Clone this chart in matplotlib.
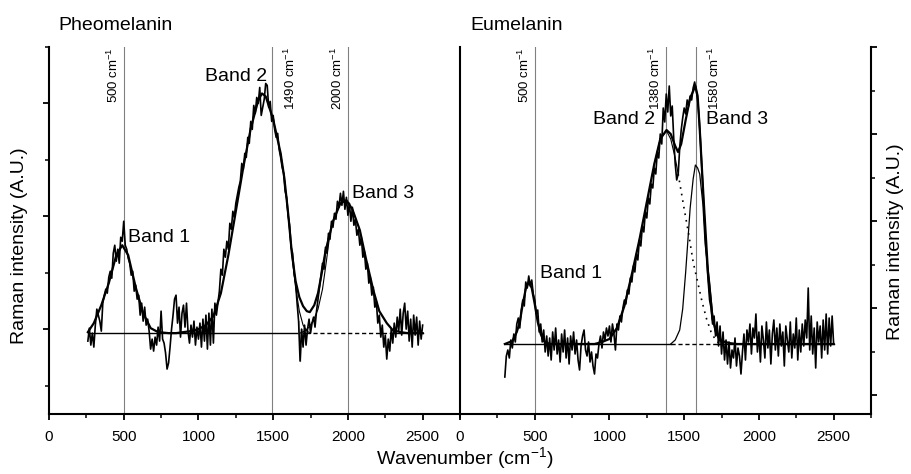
import matplotlib.pyplot as plt
import numpy as np
from matplotlib.ticker import MultipleLocator

plt.rcParams['font.family'] = ['Liberation Sans', 'DejaVu Sans']
plt.rcParams['mathtext.fontset'] = 'custom'
plt.rcParams['mathtext.rm'] = 'Liberation Sans'
plt.rcParams['mathtext.default'] = 'regular'

# ---- Pheomelanin (left panel), heights above baseline in A.U.
pheo_start = 260  # raw spectrum, one value every 10 cm-1
pheo_raw = [-8, 5, -12, 0, -14, 8, 24, 18, 12, 2,
            30, 38, 44, 40, 56, 62, 55, 80, 88, 72,
            84, 70, 96, 92, 112, 88, 84, 75, 70, 58,
            62, 42, 48, 34, 38, 18, 30, 12, 26, 8,
            14, 2, -16, -6, -18, -4, -12, 6, -8, 22,
            -6, -10, -20, -36, -30, -14, 4, 18, 34, 38,
            10, 26, -4, 20, 28, 6, 30, 2, -10, 8,
            -4, 12, -12, 6, -6, 10, -14, 14, -8, 18,
            -16, 20, -12, 24, -10, 30, 18, 30, 42, 64,
            58, 84, 76, 92, 84, 110, 104, 122, 116, 130,
            138, 146, 152, 170, 164, 180, 176, 196, 190, 212,
            204, 228, 220, 236, 230, 246, 218, 226, 234, 250,
            248, 226, 232, 212, 218, 204, 196, 200, 184, 176,
            166, 160, 142, 136, 118, 108, 86, 80, 60, 50,
            30, 12, -28, 4, -14, 8, -12, 4, 14, 0,
            10, 16, 6, 22, 34, 46, 58, 70, 64, 86,
            80, 100, 94, 112, 106, 120, 114, 132, 126, 140,
            128, 142, 124, 136, 118, 130, 112, 126, 108, 114,
            98, 104, 88, 96, 76, 82, 64, 70, 50, 56,
            38, 46, 26, 32, 10, 18, -4, 8, -14, -2,
            -26, -6, -18, 4, -10, 10, -4, 16, 2, 24,
            -2, 20, 30, 4, 22, -8, 14, -14, 18, -2,
            16, -12, 12, -6, 8]

pheo_fit_x = [260, 300, 350, 400, 450, 490, 530, 580, 630, 680, 730, 800, 850,
              900, 950, 1000, 1050, 1100, 1150, 1200, 1250, 1300, 1350, 1400,
              1425, 1450, 1500, 1550, 1575, 1600, 1625, 1650, 1675, 1700, 1725,
              1745, 1775, 1800, 1825, 1850, 1900, 1950, 1990, 2030, 2080, 2120,
              2170, 2210, 2260, 2300, 2350, 2400, 2500]
pheo_fit_y = [1, 10, 28, 50, 78, 88, 78, 46, 20, 5, 1, 0, 0,
              1, 2, 4, 8, 17, 40, 78, 122, 166, 205, 233,
              240, 237, 214, 180, 155, 120, 80, 52, 36, 27, 22,
              21, 28, 40, 60, 82, 112, 130, 133, 124, 103, 75,
              43, 22, 10, 3, 1, 0, 0]

pheo_b2_x = [1550, 1575, 1600, 1625, 1650, 1675, 1700, 1725, 1750]
pheo_b2_y = [180, 155, 118, 78, 46, 22, 8, 2, 0]
pheo_b3_x = [1680, 1710, 1740, 1770, 1800, 1830, 1856, 1880]
pheo_b3_y = [0, 2, 6, 13, 24, 44, 72, 100]

pheo_base_solid = [(260, 1720), (2280, 2500)]
pheo_base_dash = (1720, 2280)
pheo_lines = [500, 1490, 2000]
pheo_line_side = ['left', 'right', 'left']

# ---- Eumelanin (right panel)
eu_start = 300
eu_raw = [-33, -12, -6, -14, 4, -4, 10, 2, 20, 26,
          16, 34, 44, 38, 62, 56, 68, 58, 64, 50,
          44, 30, 34, 12, 20, 2, 14, -8, 8, -12,
          6, -16, 12, -6, 16, -10, 4, -18, 10, -8,
          14, -14, 6, -20, 8, -6, 12, -10, 4, -16,
          -26, -2, 8, 14, -6, -12, 2, -18, -8, -22,
          -30, -10, -14, 0, 8, -4, 12, 4, 16, 8,
          18, 2, 20, 10, -6, 20, 14, 28, 22, 36,
          44, 40, 54, 50, 66, 62, 78, 72, 90, 84,
          104, 98, 118, 112, 132, 126, 146, 140, 160, 156,
          176, 170, 192, 186, 210, 200, 236, 222, 250, 232,
          258, 228, 238, 206, 180, 164, 170, 196, 214, 226,
          236, 230, 244, 238, 248, 244, 256, 262, 254, 244,
          226, 200, 170, 142, 112, 86, 64, 44, 36, 20,
          28, 8, 22, -2, 18, -10, 12, -16, 4, -20,
          2, -24, -6, -14, 6, -22, -4, -12, -30, -8,
          10, -16, 14, 2, 20, -10, 16, 6, 30, -8,
          12, -18, 18, 4, -14, 22, -4, 14, -20, 10,
          24, -6, 16, -12, 20, -2, 12, -22, 18, 4,
          -8, 22, -14, 10, -4, 26, -16, 14, -8, 20,
          -2, 24, 6, 56, -6, 28, -10, 16, -24, 22,
          2, 18, -14, 24, -6, 30, -10, 26, -2, 28,
          0]

eu_fit_x = [300, 350, 380, 400, 420, 440, 460, 480, 500, 520, 540, 560, 600,
            900, 950, 1000, 1050, 1100, 1150, 1200, 1250, 1300, 1340, 1382,
            1410, 1440, 1459, 1480, 1510, 1540, 1575, 1590, 1604, 1630, 1660,
            1690, 1716, 1750, 1800, 1850, 2500]
eu_fit_y = [0, 3, 12, 22, 40, 55, 62, 56, 40, 22, 10, 3, 0,
            0, 2, 5, 16, 38, 70, 104, 142, 180, 205, 214,
            210, 198, 192, 200, 224, 246, 258, 248, 215, 145, 70,
            25, 10, 3, 1, 0, 0]

eu_b2_x = [1300, 1340, 1382, 1410, 1440, 1460]
eu_b2_y = [180, 205, 213, 205, 186, 170]
eu_b2_dot_x = [1460, 1500, 1530, 1560, 1590, 1620, 1650, 1680, 1710, 1740]
eu_b2_dot_y = [170, 135, 110, 82, 62, 42, 25, 12, 4, 0]
eu_b3_x = [1410, 1440, 1470, 1490, 1510, 1540, 1560, 1575, 1590, 1604,
           1625, 1640, 1670, 1690, 1710, 1740]
eu_b3_y = [0, 4, 14, 35, 72, 136, 165, 179, 176, 170,
           140, 100, 62, 30, 12, 3]

eu_base_solid = [(300, 1410), (1720, 2500)]
eu_base_dash = (1410, 1720)
eu_lines = [500, 1380, 1580]
eu_line_side = ['left', 'left', 'right']

fig = plt.figure(figsize=(9.12, 4.74), dpi=100)
ax1 = fig.add_axes([49/912, 60/474, 411/912, 367/474])
ax2 = fig.add_axes([460/912, 60/474, 411/912, 367/474])


def draw_panel(ax, start, raw, fit_x, fit_y, base_solid, base_dash, lines, sides):
    wn = np.arange(start, start + 10*len(raw), 10)
    for xl in lines:
        ax.axvline(xl, color='0.5', lw=0.8, zorder=1)
    for a, b in base_solid:
        ax.plot([a, b], [0, 0], color='k', lw=1.0, zorder=2)
    ax.plot(list(base_dash), [0, 0], color='k', lw=1.0, ls=(0, (3, 2)), zorder=2)
    ax.plot(wn, raw, color='k', lw=1.2, zorder=3)
    ax.plot(fit_x, fit_y, color='k', lw=1.6, zorder=4)
    for xl, side in zip(lines, sides):
        dx = -2 if side == 'left' else 8
        ax.annotate(str(xl) + r' cm$^{-1}$', xy=(xl, 1),
                    xycoords=('data', 'axes fraction'), xytext=(dx, 0),
                    textcoords='offset points', rotation=90,
                    ha='right' if side == 'left' else 'left', va='top',
                    fontsize=9.5)
    ax.set_xlim(0, 2750)
    ax.xaxis.set_major_locator(MultipleLocator(500))
    ax.xaxis.set_minor_locator(MultipleLocator(250))
    ax.tick_params(axis='x', which='major', direction='out', length=4.5,
                   width=1.3, labelsize=11, pad=7)
    ax.tick_params(axis='x', which='minor', direction='out', length=3, width=1.1)
    ax.spines['top'].set_visible(False)
    for s in ['left', 'right', 'bottom']:
        ax.spines[s].set_linewidth(1.5)
    return wn


wn1 = draw_panel(ax1, pheo_start, pheo_raw, pheo_fit_x, pheo_fit_y,
                 pheo_base_solid, pheo_base_dash, pheo_lines, pheo_line_side)
ax1.plot(pheo_b2_x, pheo_b2_y, color='k', lw=0.8, zorder=3)
ax1.plot(pheo_b3_x, pheo_b3_y, color='k', lw=0.8, zorder=3)
raw1 = np.array(pheo_raw)
ax1.fill_between(wn1, raw1, 0, where=(wn1 >= 1670) & (wn1 <= 1690),
                 color='0.75', zorder=2)
ax1.spines['right'].set_visible(False)
ax1.set_ylim(-81, 286.5)
ax1.set_yticks(np.arange(4, 290, 113))
ax1.set_yticks(np.arange(-52.5, 290, 113), minor=True)
ax1.tick_params(axis='y', which='major', direction='out', length=4.5, width=1.3,
                labelleft=False)
ax1.tick_params(axis='y', which='minor', direction='out', length=3, width=1.1)

draw_panel(ax2, eu_start, eu_raw, eu_fit_x, eu_fit_y,
           eu_base_solid, eu_base_dash, eu_lines, eu_line_side)
ax2.plot(eu_b2_x, eu_b2_y, color='k', lw=0.8, zorder=3)
ax2.plot(eu_b2_dot_x, eu_b2_dot_y, color='k', lw=1.2, ls=(0, (1, 3)), zorder=3)
ax2.plot(eu_b3_x, eu_b3_y, color='k', lw=0.9, zorder=3)
ax2.set_ylim(-70, 297)
ax2.yaxis.tick_right()
ax2.set_yticks(np.arange(-51, 300, 87))
ax2.set_yticks(np.arange(-7.5, 300, 87), minor=True)
ax2.tick_params(axis='y', which='major', direction='out', length=4.5, width=1.3,
                labelright=False)
ax2.tick_params(axis='y', which='minor', direction='out', length=3, width=1.1)

# band labels
ax1.text(528, 96, 'Band 1', fontsize=14, ha='left', va='center')
ax1.text(1043, 257, 'Band 2', fontsize=14, ha='left', va='center')
ax1.text(2025, 140, 'Band 3', fontsize=14, ha='left', va='center')
ax2.text(535, 70, 'Band 1', fontsize=14, ha='left', va='center')
ax2.text(891, 224, 'Band 2', fontsize=14, ha='left', va='center')
ax2.text(1644, 224, 'Band 3', fontsize=14, ha='left', va='center')

fig.text(58/912, 1 - 25/474, 'Pheomelanin', fontsize=14, ha='left', va='center')
fig.text(470/912, 1 - 25/474, 'Eumelanin', fontsize=14, ha='left', va='center')
fig.text(20/912, 1 - 246/474, 'Raman intensity (A.U.)', fontsize=14,
         rotation=90, ha='center', va='center')
fig.text(896/912, 1 - 242/474, 'Raman intensity (A.U.)', fontsize=14,
         rotation=90, ha='center', va='center')
fig.text(465/912, 3/474, r'Wavenumber (cm$^{-1}$)', fontsize=14,
         ha='center', va='bottom')

fig.savefig('out.png', dpi=100)
